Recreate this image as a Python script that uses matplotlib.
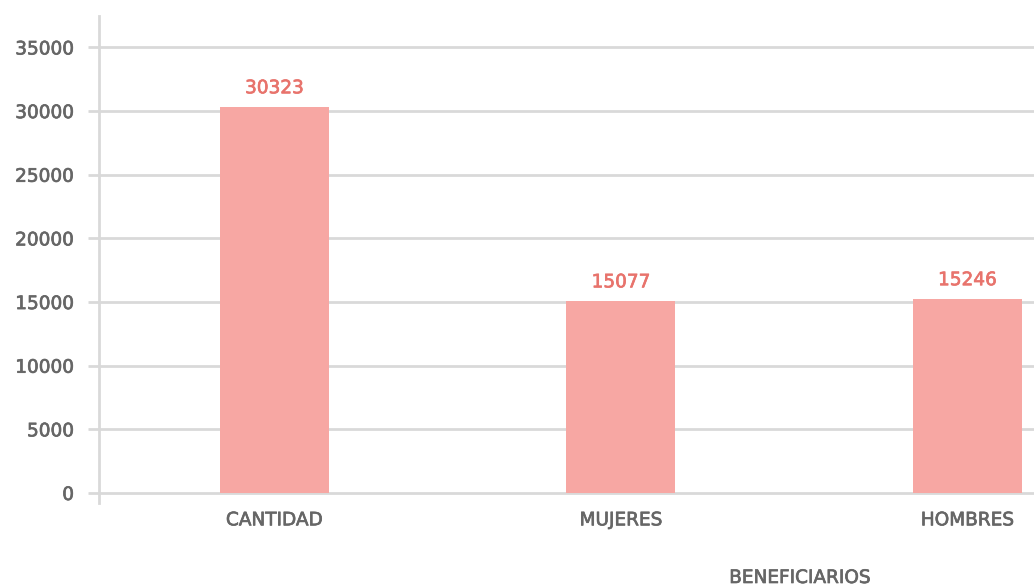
import matplotlib
matplotlib.use("Agg")
import matplotlib.pyplot as plt
import matplotlib.patheffects as pe

categories = ["CANTIDAD", "MUJERES", "HOMBRES"]
values = [30323, 15077, 15246]
yticks = [0, 5000, 10000, 15000, 20000, 25000, 30000, 35000]
xlabel = "BENEFICIARIOS"

W, H = 1034, 587
fig = plt.figure(figsize=(W / 100, H / 100), dpi=100)
left, right, top, bottom = 99, 1034, 16, 503
ax = fig.add_axes([left / W, 1 - bottom / H, (right - left) / W, (bottom - top) / H])

bar_color = "#f7a7a3"
label_color = "#e8736c"
text_color = "#666666"
grid_color = "#d9d9d9"
fs = 13.3


def thick(c):
    return [pe.withStroke(linewidth=0.5, foreground=c)]


x = list(range(len(categories)))
ax.bar(x, values, width=0.3146, color=bar_color, zorder=3)
for xi, v in zip(x, values):
    ax.annotate(str(v), (xi, v), xytext=(0, 7), textcoords="offset points",
                ha="center", va="bottom", color=label_color, fontsize=fs,
                path_effects=thick(label_color))

ax.set_xlim(-0.5065, 2.192)
ax.set_ylim(-785, 37470)
ax.set_yticks(yticks)
ax.set_xticks(x)
ax.set_xticklabels(categories)
ax.yaxis.grid(True, color=grid_color, linewidth=2, zorder=0)
ax.set_axisbelow(True)
for s in ["top", "right", "bottom"]:
    ax.spines[s].set_visible(False)
ax.spines["left"].set_color(grid_color)
ax.spines["left"].set_linewidth(2)
ax.tick_params(axis="y", length=8, width=2, color=grid_color, pad=10,
               labelsize=fs, labelcolor=text_color)
ax.tick_params(axis="x", length=0, pad=6, labelsize=fs, labelcolor=text_color)
for t in ax.get_xticklabels() + ax.get_yticklabels():
    t.set_path_effects(thick(text_color))

fig.text(800 / W, 1 - 578 / H, xlabel, ha="center", va="center",
         fontsize=fs, color=text_color, path_effects=thick(text_color))

fig.savefig("out.png", dpi=100)
